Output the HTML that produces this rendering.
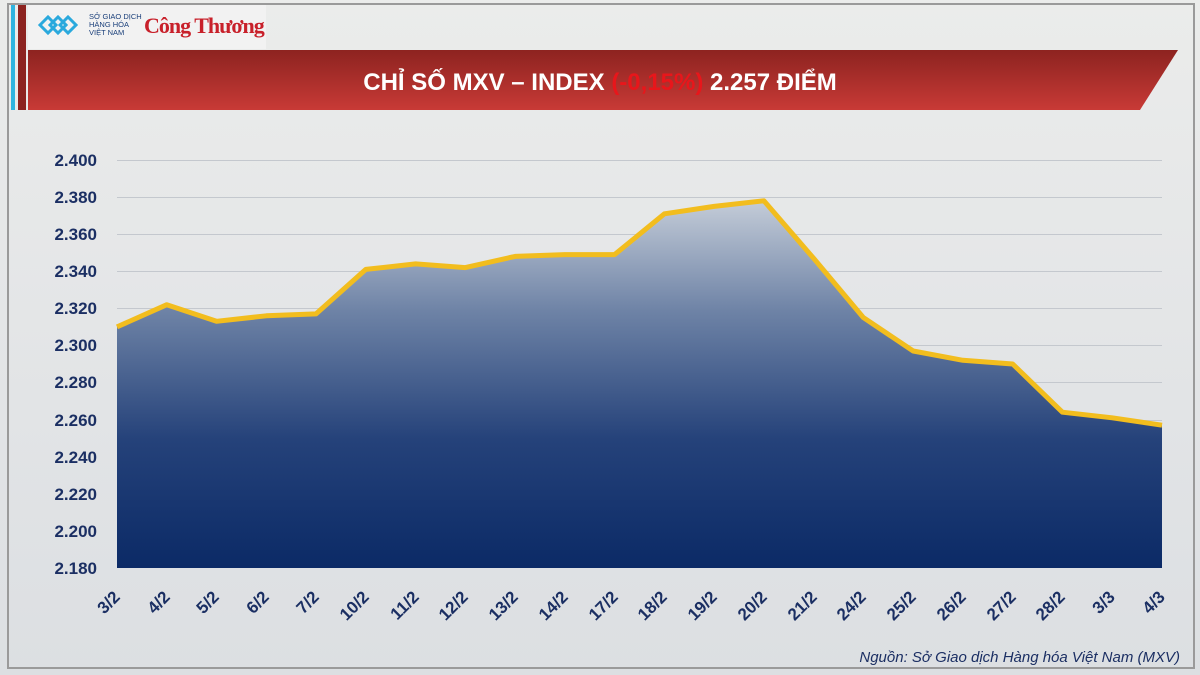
<!DOCTYPE html>
<html><head><meta charset="utf-8"><style>
html,body{margin:0;padding:0;width:1200px;height:675px;overflow:hidden;background:#e6e7e7;}
svg{display:block}
</style></head><body>
<svg width="1200" height="675" xmlns="http://www.w3.org/2000/svg" font-family="'Liberation Sans', sans-serif">
<defs>
<linearGradient id="bg" x1="0" y1="0" x2="0" y2="1">
<stop offset="0" stop-color="#ebeceb"/><stop offset="0.6" stop-color="#e2e4e6"/><stop offset="1" stop-color="#dcdfe2"/></linearGradient>
<linearGradient id="ban" x1="0" y1="0" x2="0" y2="1">
<stop offset="0" stop-color="#8d2320"/><stop offset="1" stop-color="#c83a36"/></linearGradient>
<linearGradient id="area" x1="0" y1="0" x2="0" y2="1">
<stop offset="0" stop-color="#c4ccd8"/><stop offset="0.3" stop-color="#6e83a6"/><stop offset="0.65" stop-color="#25427a"/><stop offset="1" stop-color="#0b2a66"/></linearGradient>
</defs>
<rect width="1200" height="675" fill="url(#bg)"/>
<rect x="8" y="4" width="1186" height="664" fill="none" stroke="#9a9a9a" stroke-width="2"/>
<rect x="11" y="5" width="4" height="105" fill="#2fb4e0"/>
<rect x="18" y="5" width="8" height="105" fill="#8c2320"/>
<rect x="28" y="5" width="238" height="44" fill="#f2f2f2"/>
<g fill="none" stroke="#2aa9dd" stroke-width="3">
<path d="M40 25 l8 -8 l8 8 l-8 8z"/><path d="M50 25 l8 -8 l8 8 l-8 8z"/><path d="M60 25 l8 -8 l8 8 l-8 8z"/>
</g>
<text x="89" y="19" font-size="7.5" fill="#1a3f7a">SỞ GIAO DỊCH</text>
<text x="89" y="27" font-size="7.5" fill="#1a3f7a">HÀNG HÓA</text>
<text x="89" y="35" font-size="7.5" fill="#1a3f7a">VIỆT NAM</text>
<text x="144" y="33" font-size="22" font-family="'Liberation Serif',serif" font-weight="bold" fill="#c8202a" letter-spacing="-1">Công Thương</text>
<path d="M28 50 L1178 50 L1140 110 L28 110 Z" fill="url(#ban)"/>
<text x="600" y="90" text-anchor="middle" font-size="24" font-weight="bold" fill="#fff">CHỈ SỐ MXV – INDEX <tspan fill="#e8161b">(-0,15%)</tspan> 2.257 ĐIỂM</text>
<g stroke="#c4c8ce" stroke-width="1">
<line x1="117" x2="1162" y1="160.5" y2="160.5"/><line x1="117" x2="1162" y1="197.5" y2="197.5"/>
<line x1="117" x2="1162" y1="234.5" y2="234.5"/><line x1="117" x2="1162" y1="271.5" y2="271.5"/>
<line x1="117" x2="1162" y1="308.5" y2="308.5"/><line x1="117" x2="1162" y1="345.5" y2="345.5"/>
<line x1="117" x2="1162" y1="382.5" y2="382.5"/><line x1="117" x2="1162" y1="420.5" y2="420.5"/>
<line x1="117" x2="1162" y1="457.5" y2="457.5"/><line x1="117" x2="1162" y1="494.5" y2="494.5"/>
<line x1="117" x2="1162" y1="531.5" y2="531.5"/>
</g>
<path d="M117 326.9 L166.8 304.7 L216.5 321.3 L266.3 315.8 L316 313.9 L365.8 269.4 L415.6 263.9 L465.3 267.6 L515.1 256.4 L564.8 254.6 L614.6 254.6 L664.4 213.8 L714.1 206.4 L763.9 200.8 L813.6 258.3 L863.4 317.6 L913.2 351 L962.9 360.3 L1012.7 364 L1062.4 412.2 L1112.2 417.8 L1162 425.2 L1162 568 L117 568 Z" fill="url(#area)"/>
<path d="M117 326.9 L166.8 304.7 L216.5 321.3 L266.3 315.8 L316 313.9 L365.8 269.4 L415.6 263.9 L465.3 267.6 L515.1 256.4 L564.8 254.6 L614.6 254.6 L664.4 213.8 L714.1 206.4 L763.9 200.8 L813.6 258.3 L863.4 317.6 L913.2 351 L962.9 360.3 L1012.7 364 L1062.4 412.2 L1112.2 417.8 L1162 425.2" fill="none" stroke="#f2bd1e" stroke-width="5" stroke-linejoin="round"/>
<g font-size="17" font-weight="bold" fill="#1b2f63" text-anchor="end">
<text x="97" y="166">2.400</text><text x="97" y="203">2.380</text><text x="97" y="240">2.360</text>
<text x="97" y="277">2.340</text><text x="97" y="314">2.320</text><text x="97" y="351">2.300</text>
<text x="97" y="388">2.280</text><text x="97" y="426">2.260</text><text x="97" y="463">2.240</text>
<text x="97" y="500">2.220</text><text x="97" y="537">2.200</text><text x="97" y="574">2.180</text>
</g>
<g font-size="17" font-weight="bold" fill="#1b2f63" text-anchor="end">
<text transform="translate(121,598) rotate(-45)">3/2</text>
<text transform="translate(171,598) rotate(-45)">4/2</text>
<text transform="translate(220,598) rotate(-45)">5/2</text>
<text transform="translate(270,598) rotate(-45)">6/2</text>
<text transform="translate(320,598) rotate(-45)">7/2</text>
<text transform="translate(370,598) rotate(-45)">10/2</text>
<text transform="translate(420,598) rotate(-45)">11/2</text>
<text transform="translate(469,598) rotate(-45)">12/2</text>
<text transform="translate(519,598) rotate(-45)">13/2</text>
<text transform="translate(569,598) rotate(-45)">14/2</text>
<text transform="translate(619,598) rotate(-45)">17/2</text>
<text transform="translate(668,598) rotate(-45)">18/2</text>
<text transform="translate(718,598) rotate(-45)">19/2</text>
<text transform="translate(768,598) rotate(-45)">20/2</text>
<text transform="translate(818,598) rotate(-45)">21/2</text>
<text transform="translate(867,598) rotate(-45)">24/2</text>
<text transform="translate(917,598) rotate(-45)">25/2</text>
<text transform="translate(967,598) rotate(-45)">26/2</text>
<text transform="translate(1017,598) rotate(-45)">27/2</text>
<text transform="translate(1066,598) rotate(-45)">28/2</text>
<text transform="translate(1116,598) rotate(-45)">3/3</text>
<text transform="translate(1166,598) rotate(-45)">4/3</text>
</g>
<text x="1180" y="662" text-anchor="end" font-size="15" font-style="italic" fill="#1b2f63">Nguồn: Sở Giao dịch Hàng hóa Việt Nam (MXV)</text>
</svg>
</body></html>
